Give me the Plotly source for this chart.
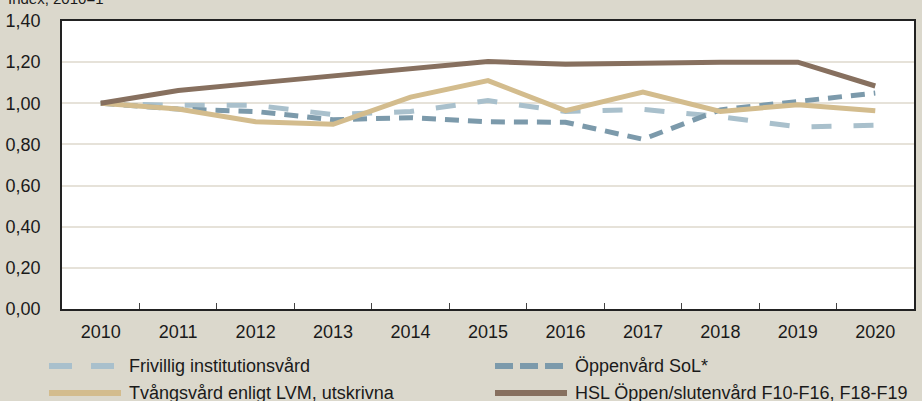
import plotly.graph_objects as go

years = ["2010", "2011", "2012", "2013", "2014", "2015", "2016", "2017", "2018", "2019", "2020"]
frivillig = [1.00, 0.99, 0.99, 0.945, 0.96, 1.013, 0.96, 0.97, 0.935, 0.885, 0.893]
oppenvard = [1.00, 0.972, 0.96, 0.92, 0.93, 0.91, 0.908, 0.825, 0.968, 1.008, 1.05]
tvangsvard = [1.00, 0.972, 0.91, 0.898, 1.03, 1.11, 0.964, 1.054, 0.96, 0.993, 0.964]
hsl = [1.00, 1.062, 1.098, 1.131, 1.164, 1.203, 1.19, 1.198, 1.20, 1.20, 1.084]

names = ["Frivillig institutionsvård", "Öppenvård SoL*",
         "Tvångsvård enligt LVM, utskrivna", "HSL Öppen/slutenvård F10-F16, F18-F19"]
y_title = "Index, 2010=1"
y_ticks = [0, 0.2, 0.4, 0.6, 0.8, 1.0, 1.2, 1.4]

C_LIGHT = "#A9C0CC"
C_DARK = "#7C9AAB"
C_TAN = "#D3BC8D"
C_BROWN = "#87705F"
BG = "#DBD8CC"
FONT = "Liberation Sans"

series = [
    (frivillig, C_LIGHT, "20px,22px"),
    (oppenvard, C_DARK, "14px,9px"),
    (tvangsvard, C_TAN, "solid"),
    (hsl, C_BROWN, "solid"),
]

fig = go.Figure()
for (vals, col, dash), nm in zip(series, names):
    fig.add_trace(go.Scatter(
        x=years, y=vals, name=nm, mode="lines",
        line=dict(color=col, width=5, dash=dash),
        showlegend=False, hoverinfo="x+y+name",
    ))

W, H = 922, 401
L, R, T, B = 62, 8, 21, 92

fig.update_layout(
    width=W, height=H,
    margin=dict(l=L, r=R, t=T, b=B, autoexpand=False),
    paper_bgcolor=BG, plot_bgcolor="white",
    separators=", ",
    font=dict(family=FONT, size=17, color="#1a1a1a"),
)
fig.update_xaxes(
    type="category", categoryorder="array", categoryarray=years,
    range=[-0.5, len(years) - 0.5],
    showline=True, linecolor="#222", linewidth=1.5, mirror=True,
    ticks="inside", ticklen=6, tickcolor="#444", tickwidth=1,
    tickson="boundaries", showgrid=False,
    tickfont=dict(family=FONT, size=18),
    ticklabelstandoff=6,
)
fig.update_yaxes(
    range=[0, 1.4], tickvals=y_ticks, tickformat=".2f",
    showline=True, linecolor="#222", linewidth=1.5, mirror=True,
    showgrid=True, gridcolor="#E6E2D9", gridwidth=1.5,
    zeroline=False, ticks="",
    tickfont=dict(family=FONT, size=18),
    ticklabelstandoff=16,
)

pw, ph = W - L - R, H - T - B
def px_x(v):
    return (v - L) / pw
def px_y(v):
    return (H - B - v) / ph

fig.add_annotation(
    text=y_title, xref="paper", yref="paper",
    x=px_x(6), y=px_y(9),
    xanchor="left", yanchor="bottom", showarrow=False,
    font=dict(family=FONT, size=15, color="#1a1a1a"),
)

legend_pos = [(49, 366), (495, 366), (49, 393), (495, 393)]
for (vals, col, dash), nm, (lx, ly) in zip(series, names, legend_pos):
    if col == C_LIGHT:
        ldash = "23px,19px"
    elif col == C_DARK:
        ldash = "18px,7px"
    else:
        ldash = "solid"
    fig.add_shape(
        type="line", xref="paper", yref="paper",
        x0=px_x(lx), x1=px_x(lx + 72), y0=px_y(ly), y1=px_y(ly),
        line=dict(color=col, width=6, dash=ldash),
    )
    fig.add_annotation(
        text=nm, xref="paper", yref="paper",
        x=px_x(lx + 78), y=px_y(ly), xanchor="left", yanchor="middle",
        showarrow=False, font=dict(family=FONT, size=18, color="#1a1a1a"),
    )

fig.write_html(
    "out.html",
    config={"displayModeBar": False},
    post_script="document.body.style.margin='0';document.body.style.overflow='hidden';",
)
